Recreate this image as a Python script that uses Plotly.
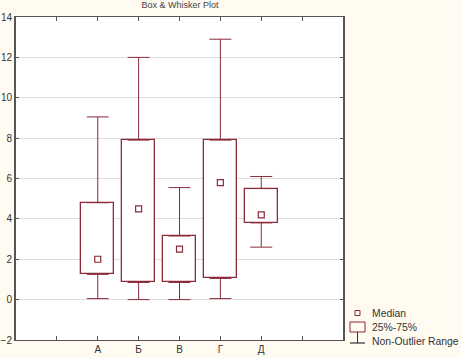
import plotly.graph_objects as go

categories = ["А", "Б", "В", "Г", "Д"]
positions = [1, 2, 3, 4, 5]
low = [0.05, 0.0, 0.0, 0.05, 2.6]
q1 = [1.25, 0.85, 0.85, 1.05, 3.8]
median = [2.0, 4.5, 2.5, 5.8, 4.2]
q3 = [4.8, 7.9, 3.15, 7.9, 5.5]
high = [9.05, 12.0, 5.55, 12.9, 6.1]

red = "#8c2a3a"
fig = go.Figure()

fig.add_trace(go.Bar(
    x=positions, y=[b - a for a, b in zip(q1, q3)], base=q1, width=0.8,
    marker=dict(color="white", line=dict(color=red, width=1.3)), showlegend=False))
fig.add_trace(go.Scatter(
    x=positions, y=q3, mode="markers", marker=dict(size=1, opacity=0),
    error_y=dict(type="data", symmetric=False, array=[h - t for h, t in zip(high, q3)],
                 arrayminus=[0] * 5, color=red, thickness=1, width=11), showlegend=False))
fig.add_trace(go.Scatter(
    x=positions, y=q1, mode="markers", marker=dict(size=1, opacity=0),
    error_y=dict(type="data", symmetric=False, array=[0] * 5,
                 arrayminus=[a - l for a, l in zip(q1, low)], color=red, thickness=1, width=11),
    showlegend=False))
fig.add_trace(go.Scatter(
    x=positions, y=median, mode="markers",
    marker=dict(symbol="square-open", size=6, color=red, line=dict(width=1.2)), showlegend=False))

fig.update_layout(
    width=461, height=358,
    margin=dict(l=16, r=118, t=17, b=18),
    paper_bgcolor="#fffbf0", plot_bgcolor="white",
    font=dict(family="Liberation Sans, Arial", size=10, color="#333"),
    title=dict(text="Box & Whisker Plot", x=180 / 461, xanchor="center", y=0.994, yanchor="top",
               font=dict(size=9, color="#444")),
    bargap=0,
)
fig.update_xaxes(range=[-1, 7], tickvals=[0, 1, 2, 3, 4, 5, 6], ticktext=[""] + categories + [""],
                 showgrid=False, showline=True, linecolor="#555", linewidth=1, mirror="ticks",
                 ticks="inside", ticklen=4, tickcolor="#555", zeroline=False, automargin=False,
                 ticklabelstandoff=0)
fig.update_yaxes(range=[-2, 14], tickvals=list(range(-2, 15, 2)), showgrid=True, gridcolor="#dedede",
                 gridwidth=1, showline=True, linecolor="#555", linewidth=2, mirror="ticks",
                 ticks="inside", ticklen=3, tickcolor="#555", zeroline=False, automargin=False,
                 ticklabelstandoff=0, tickfont=dict(size=10))

W, H = 327.0, 323.0
def px(x):
    return (x - 16) / W
def py(y):
    return (340 - y) / H

fig.add_shape(type="rect", xref="paper", yref="paper", x0=px(355), x1=px(360), y0=py(315.5), y1=py(310.5),
              line=dict(color=red, width=1))
fig.add_shape(type="rect", xref="paper", yref="paper", x0=px(350), x1=px(365), y0=py(332), y1=py(322),
              line=dict(color=red, width=1))
fig.add_shape(type="line", xref="paper", yref="paper", x0=px(357.5), x1=px(357.5), y0=py(332), y1=py(343),
              line=dict(color="#333", width=1))
fig.add_shape(type="line", xref="paper", yref="paper", x0=px(350), x1=px(365), y0=py(343), y1=py(343),
              line=dict(color="#333", width=1.2))
for txt, yy in [("Median", 313), ("25%-75%", 327), ("Non-Outlier Range", 341)]:
    fig.add_annotation(text=txt, xref="paper", yref="paper", x=px(370), y=py(yy), xanchor="left",
                       yanchor="middle", showarrow=False, font=dict(size=10.4, color="#333"))

fig.write_html("out.html", config={"displayModeBar": False},
               post_script="document.body.style.margin='0';")
